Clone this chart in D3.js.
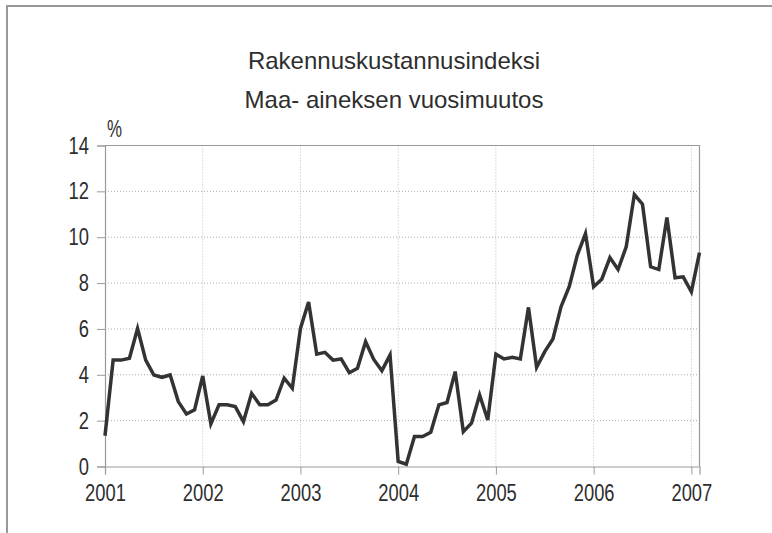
<!DOCTYPE html>
<html>
<head>
<meta charset="utf-8">
<script src="https://cdn.jsdelivr.net/npm/d3@7"></script>
<style>
  body { margin: 0; background: #fff; }
  svg { display: block; }
  .title { font-family: "Liberation Sans", Arial, sans-serif; font-size: 24px; fill: #2e2e2e; }
  .tick-label { font-family: "Liberation Sans Narrow", "Arial Narrow", "Liberation Sans", sans-serif; font-size: 23.5px; fill: #2e2e2e; }
</style>
</head>
<body>
<svg width="772" height="533"></svg>
<script>
const titleLines = ['Rakennuskustannusindeksi', 'Maa- aineksen vuosimuutos'];
const unitLabel = '%';
const years = ['2001', '2002', '2003', '2004', '2005', '2006', '2007'];
const yTicks = [0, 2, 4, 6, 8, 10, 12, 14];

// monthly change, Jan 2001 .. Feb 2007
const values = [
  1.34, 4.64, 4.64, 4.72, 6.02, 4.64, 3.99, 3.89, 3.99, 2.83, 2.29, 2.47,
  3.95, 1.86, 2.69, 2.69, 2.61, 1.96, 3.19, 2.69, 2.69, 2.90, 3.85, 3.41,
  6.02, 7.17, 4.90, 4.98, 4.64, 4.69, 4.09, 4.28, 5.44, 4.67, 4.18, 4.86,
  0.22, 0.10, 1.31, 1.31, 1.49, 2.69, 2.79, 4.14, 1.52, 1.89, 3.12, 2.03,
  4.90, 4.69, 4.76, 4.69, 6.94, 4.33, 5.01, 5.56, 6.97, 7.84, 9.22, 10.16,
  7.84, 8.17, 9.11, 8.59, 9.58, 11.86, 11.44, 8.71, 8.59, 10.86, 8.23, 8.27,
  7.62, 9.33
];

const svg = d3.select('svg');

// outer frame (runs off the right and bottom of the picture)
svg.append('rect')
  .attr('x', 7).attr('y', 6)
  .attr('width', 800).attr('height', 560)
  .attr('fill', '#fff')
  .attr('stroke', '#999')
  .attr('stroke-width', 2);

const plotL = 105, plotR = 699.5, plotT = 145.5, plotB = 466.5;

const x = d3.scaleLinear().domain([0, values.length - 1]).range([plotL, plotR]);
const y = d3.scaleLinear().domain([0, 14]).range([plotB, plotT]);

const yearIdx = years.map((d, i) => i * 12);

// digits in the scan are narrow, squeeze them a bit
const narrow = sel => sel
  .attr('textLength', function () { return this.textContent.length * 10.2; })
  .attr('lengthAdjust', 'spacingAndGlyphs');

// grid
svg.append('g').selectAll('line')
  .data(yTicks.filter(d => d > 0 && d < 14))
  .enter().append('line')
  .attr('x1', plotL).attr('x2', plotR)
  .attr('y1', d => y(d)).attr('y2', d => y(d))
  .attr('stroke', '#aaa')
  .attr('stroke-dasharray', '1,2');

svg.append('g').selectAll('line')
  .data(yearIdx.slice(1))
  .enter().append('line')
  .attr('x1', d => x(d)).attr('x2', d => x(d))
  .attr('y1', plotT).attr('y2', plotB)
  .attr('stroke', '#bbb')
  .attr('stroke-dasharray', '1,2');

// plot border top and right
svg.append('path')
  .attr('d', `M${plotL},${plotT}H${plotR}V${plotB}`)
  .attr('fill', 'none')
  .attr('stroke', '#999')
  .attr('stroke-width', 1.2);

// y axis
const yAxis = d3.axisLeft(y).tickValues(yTicks).tickSize(8).tickPadding(8).tickFormat(d3.format('d'));
const gy = svg.append('g').attr('transform', `translate(${plotL},0)`).call(yAxis);
gy.attr('font-family', null).attr('font-size', null);
gy.select('.domain').attr('stroke', '#999').attr('stroke-width', 1.2);
gy.selectAll('.tick line').attr('stroke', '#999');
gy.selectAll('.tick text').attr('class', 'tick-label').attr('fill', null).call(narrow);

// x axis
const xAxis = d3.axisBottom(x).tickValues(yearIdx).tickSize(8).tickPadding(10)
  .tickFormat((d, i) => years[i]);
const gx = svg.append('g').attr('transform', `translate(0,${plotB})`).call(xAxis);
gx.attr('font-family', null).attr('font-size', null);
gx.select('.domain').attr('stroke', '#999').attr('stroke-width', 1.2);
gx.selectAll('.tick line').attr('stroke', '#999');
gx.selectAll('.tick text').attr('class', 'tick-label').attr('fill', null).call(narrow);

// the series
const line = d3.line().x((d, i) => x(i)).y(d => y(d));
svg.append('path')
  .datum(values)
  .attr('d', line)
  .attr('fill', 'none')
  .attr('stroke', '#333')
  .attr('stroke-width', 3.5)
  .attr('stroke-linejoin', 'miter');

// titles
svg.selectAll('text.title')
  .data(titleLines)
  .enter().append('text')
  .attr('class', 'title')
  .attr('x', 394)
  .attr('y', (d, i) => 69 + i * 39)
  .attr('text-anchor', 'middle')
  .text(d => d);

svg.append('text')
  .attr('class', 'tick-label')
  .attr('x', 107)
  .attr('y', 137)
  .attr('textLength', 15)
  .attr('lengthAdjust', 'spacingAndGlyphs')
  .text(unitLabel);
</script>
</body>
</html>
